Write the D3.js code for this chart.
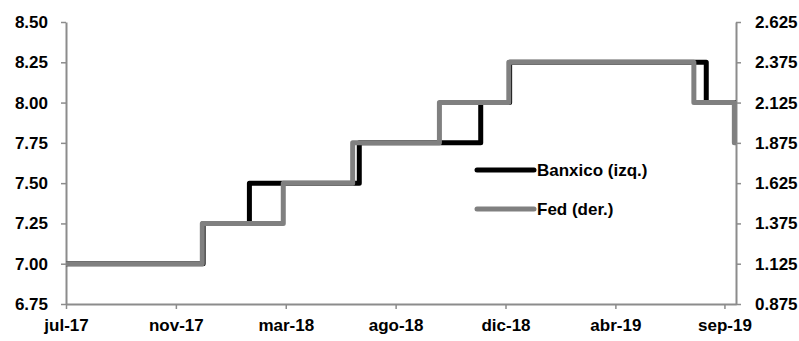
<!DOCTYPE html>
<html>
<head>
<meta charset="utf-8">
<script src="https://cdn.jsdelivr.net/npm/d3@7"></script>
<style>
  html, body { margin: 0; padding: 0; background: #fff; }
  svg { display: block; }
  text { font-family: "Liberation Sans", Arial, sans-serif; font-weight: bold; font-size: 17px; fill: #000; }
</style>
</head>
<body>
<svg id="chart" width="799" height="341"></svg>
<script>
// Policy rates: Banxico target rate (left axis) and Fed funds range midpoint (right axis)
const banxicoDates = ["2017-07-01", "2017-12-14", "2018-02-08", "2018-06-21", "2018-11-15", "2018-12-20", "2019-08-15"];
const banxicoRates = [7.00, 7.25, 7.50, 7.75, 8.00, 8.25, 8.00];
const fedDates = ["2017-07-01", "2017-12-13", "2018-03-21", "2018-06-13", "2018-09-26", "2018-12-19", "2019-07-31", "2019-09-18"];
const fedRates = [1.125, 1.375, 1.625, 1.875, 2.125, 2.375, 2.125, 1.875];
const startDate = "2017-07-01";
const endDate = "2019-09-20";

const xTickDates = ["2017-07-01", "2017-11-11", "2018-03-24", "2018-08-04", "2018-12-15", "2019-04-27", "2019-09-06"];
const xTickLabels = ["jul-17", "nov-17", "mar-18", "ago-18", "dic-18", "abr-19", "sep-19"];
const leftTicks = [6.75, 7.00, 7.25, 7.50, 7.75, 8.00, 8.25, 8.50];
const rightTicks = [0.875, 1.125, 1.375, 1.625, 1.875, 2.125, 2.375, 2.625];

const seriesNames = ["Banxico (izq.)", "Fed (der.)"];
const seriesColors = ["#000000", "#808080"];

const parse = d3.timeParse("%Y-%m-%d");
const margin = { left: 66, right: 63, top: 22, bottom: 37 };
const W = 799, H = 341;

const svg = d3.select("#chart");

const x = d3.scaleTime()
  .domain([parse(startDate), parse(endDate)])
  .range([margin.left, W - margin.right]);
const yL = d3.scaleLinear().domain([6.75, 8.50]).range([H - margin.bottom, margin.top]);
const yR = d3.scaleLinear().domain([0.875, 2.625]).range([H - margin.bottom, margin.top]);

const axisColor = "#8c8c8c";

// Left axis
const gL = svg.append("g")
  .attr("transform", `translate(${margin.left},0)`)
  .call(d3.axisLeft(yL).tickValues(leftTicks).tickFormat(d3.format(".2f")).tickSize(5).tickPadding(13).tickSizeOuter(0));

// Right axis
const gR = svg.append("g")
  .attr("transform", `translate(${W - margin.right},0)`)
  .call(d3.axisRight(yR).tickValues(rightTicks).tickFormat(d3.format(".3f")).tickSize(5).tickPadding(14).tickSizeOuter(0));

// Bottom axis
const tickDates = xTickDates.map(parse);
const gB = svg.append("g")
  .attr("transform", `translate(0,${H - margin.bottom})`)
  .call(d3.axisBottom(x).tickValues(tickDates)
    .tickFormat((d, i) => xTickLabels[i]).tickSize(5).tickSizeOuter(0));
gB.selectAll(".tick text").attr("y", 27).attr("dy", null);

[gL, gR, gB].forEach(g => {
  g.select(".domain").attr("stroke", axisColor).attr("stroke-width", 2);
  g.selectAll(".tick line").attr("stroke", axisColor).attr("stroke-width", 1.5);
  g.selectAll(".tick text").attr("fill", "#000")
    .style("font-family", '"Liberation Sans", Arial, sans-serif')
    .style("font-size", "17px").style("font-weight", "bold");
});

// Step series (value holds until next change), extended to the last date
function stepData(dates, vals) {
  const pts = dates.map((d, i) => ({ date: parse(d), v: vals[i] }));
  pts.push({ date: parse(endDate), v: vals[vals.length - 1] });
  return pts;
}

const banxico = stepData(banxicoDates, banxicoRates);
const fed = stepData(fedDates, fedRates);

const lineL = d3.line().x(d => x(d.date)).y(d => yL(d.v)).curve(d3.curveStepAfter);
const lineR = d3.line().x(d => x(d.date)).y(d => yR(d.v)).curve(d3.curveStepAfter);

svg.append("path").datum(banxico)
  .attr("d", lineL).attr("fill", "none")
  .attr("stroke", seriesColors[0]).attr("stroke-width", 5)
  .attr("stroke-linejoin", "round");

svg.append("path").datum(fed)
  .attr("d", lineR).attr("fill", "none")
  .attr("stroke", seriesColors[1]).attr("stroke-width", 5)
  .attr("stroke-linejoin", "round");

// Legend
const legend = svg.append("g").attr("transform", "translate(477,170)");
seriesNames.forEach((name, i) => {
  const g = legend.append("g").attr("transform", `translate(0,${i * 39})`);
  g.append("line").attr("x1", 0).attr("x2", 57).attr("y1", 0).attr("y2", 0)
    .attr("stroke", seriesColors[i]).attr("stroke-width", 5).attr("stroke-linecap", "round");
  g.append("text").attr("x", 60).attr("y", 0).attr("dy", "0.35em").text(name);
});
</script>
</body>
</html>
